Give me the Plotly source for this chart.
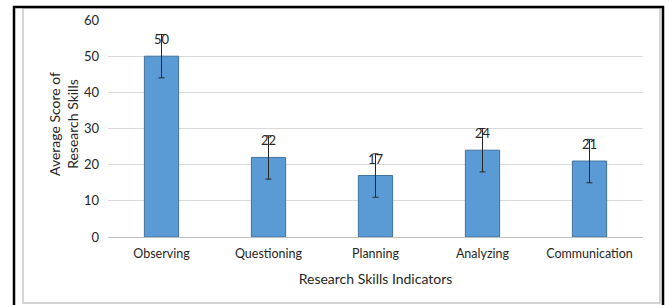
import plotly.graph_objects as go

categories = ["Observing", "Questioning", "Planning", "Analyzing", "Communication"]
scores = [50, 22, 17, 24, 21]
errors = [6, 6, 6, 6, 6]
y_ticks = [0, 10, 20, 30, 40, 50, 60]

W, H = 669, 305
L, R, T, B = 108, 26, 20, 68
pw, ph = W - L - R, H - T - B

def px(x):
    return (x - L) / pw

def py(y):
    return (H - B - y) / ph

FONT = "Lato, Carlito, Calibri, sans-serif"

fig = go.Figure()
fig.add_trace(go.Bar(
    x=categories, y=scores,
    marker=dict(color="#5b9bd5", line=dict(color="#41719c", width=1)),
    error_y=dict(type="data", array=errors, visible=True, color="#262626", thickness=1, width=3),
    width=0.32,
))

for c, v in zip(categories, scores):
    fig.add_annotation(x=c, y=v, text=str(v), showarrow=False, yanchor="bottom",
                       yshift=7, font=dict(family=FONT, size=13, color="#262626"))

fig.add_annotation(xref="paper", yref="paper", x=px(63), y=py(124), xanchor="center", yanchor="middle",
                   text="Average Score of<br>Research Skills",
                   textangle=-90, showarrow=False, font=dict(family=FONT, size=14, color="#262626"))

shapes = [
    dict(type="rect", xref="paper", yref="paper", x0=px(23), x1=px(660), y0=py(303), y1=py(8),
         line=dict(color="#c8c8c8", width=1.5)),
    dict(type="path", xref="paper", yref="paper",
         path=f"M {px(14)} {py(310)} L {px(14)} {py(7)} L {px(663)} {py(7)} L {px(663)} {py(310)}",
         line=dict(color="#000000", width=2.5)),
]

fig.update_layout(
    width=W, height=H, margin=dict(l=L, r=R, t=T, b=B),
    paper_bgcolor="white", plot_bgcolor="white",
    showlegend=False, shapes=shapes,
    font=dict(family=FONT, size=12, color="#262626"),
    xaxis=dict(title=dict(text="Research Skills Indicators", font=dict(size=14), standoff=14),
               showgrid=False, showline=True, linecolor="#bfbfbf", linewidth=1, ticks="",
               ticklabelstandoff=5, tickfont=dict(size=12.5)),
    yaxis=dict(range=[0, 60], tickvals=y_ticks, showgrid=True, gridcolor="#d9d9d9", gridwidth=1,
               zeroline=False, showline=False, ticks="", ticklabelstandoff=8,
               tickfont=dict(size=13)),
)

fig.write_html("out.html", config={"displayModeBar": False},
               post_script="document.body.style.margin='0';document.body.style.padding='0';")
